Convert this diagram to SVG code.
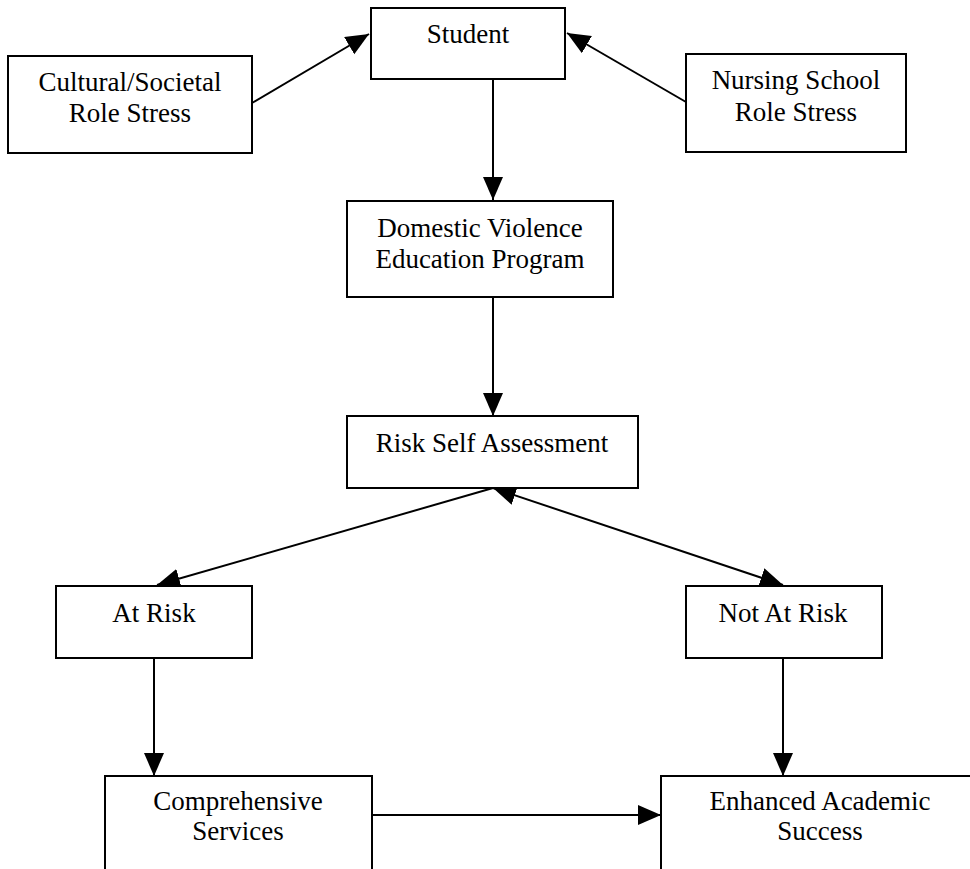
<svg xmlns="http://www.w3.org/2000/svg" width="970" height="869" viewBox="0 0 970 869">
<style>
.box{fill:#fff;stroke:#000;stroke-width:2}
.lbl{font-family:"Liberation Serif","Times New Roman",serif;font-size:27px;fill:#000;text-anchor:middle}
.con{stroke:#000;stroke-width:2;fill:none}
</style>
<defs>
<marker id="ah" markerUnits="userSpaceOnUse" markerWidth="26" markerHeight="22" refX="23" refY="10" orient="auto-start-reverse">
<path d="M0,0 L23,10 L0,20 z" fill="#000"/>
</marker>
</defs>
<rect width="970" height="869" fill="#fff"/>
<g id="connectors">
<line class="con" x1="252" y1="103" x2="369" y2="34" marker-end="url(#ah)"/>
<line class="con" x1="686" y1="102" x2="567" y2="33" marker-end="url(#ah)"/>
<line class="con" x1="493" y1="79" x2="493" y2="200" marker-end="url(#ah)"/>
<line class="con" x1="493" y1="297" x2="493" y2="416" marker-end="url(#ah)"/>
<line class="con" x1="493" y1="488" x2="157" y2="585" marker-end="url(#ah)"/>
<line class="con" x1="493" y1="488" x2="783" y2="585" marker-start="url(#ah)" marker-end="url(#ah)"/>
<line class="con" x1="154" y1="658" x2="154" y2="776" marker-end="url(#ah)"/>
<line class="con" x1="783" y1="658" x2="783" y2="776" marker-end="url(#ah)"/>
<line class="con" x1="372" y1="815" x2="661" y2="815" marker-end="url(#ah)"/>
</g>
<g id="student">
<rect class="box" x="371" y="8" width="194" height="71"/>
<text class="lbl" x="468" y="43">Student</text>
</g>
<g id="cultural">
<rect class="box" x="8" y="56" width="244" height="97"/>
<text class="lbl" x="130" y="91">Cultural/Societal</text>
<text class="lbl" x="130" y="122">Role Stress</text>
</g>
<g id="nursing">
<rect class="box" x="686" y="54" width="220" height="98"/>
<text class="lbl" x="796" y="89">Nursing School</text>
<text class="lbl" x="796" y="121">Role Stress</text>
</g>
<g id="dvep">
<rect class="box" x="347" y="201" width="266" height="96"/>
<text class="lbl" x="480" y="237">Domestic Violence</text>
<text class="lbl" x="480" y="268">Education Program</text>
</g>
<g id="risk">
<rect class="box" x="347" y="416" width="291" height="72"/>
<text class="lbl" x="492" y="452">Risk Self Assessment</text>
</g>
<g id="atrisk">
<rect class="box" x="56" y="586" width="196" height="72"/>
<text class="lbl" x="154" y="622">At Risk</text>
</g>
<g id="notatrisk">
<rect class="box" x="686" y="586" width="196" height="72"/>
<text class="lbl" x="783" y="622">Not At Risk</text>
</g>
<g id="comprehensive">
<rect class="box" x="105" y="776" width="267" height="110"/>
<text class="lbl" x="238" y="810">Comprehensive</text>
<text class="lbl" x="238" y="840">Services</text>
</g>
<g id="enhanced">
<rect class="box" x="661" y="776" width="320" height="110"/>
<text class="lbl" x="820" y="810">Enhanced Academic</text>
<text class="lbl" x="820" y="840">Success</text>
</g>
</svg>
